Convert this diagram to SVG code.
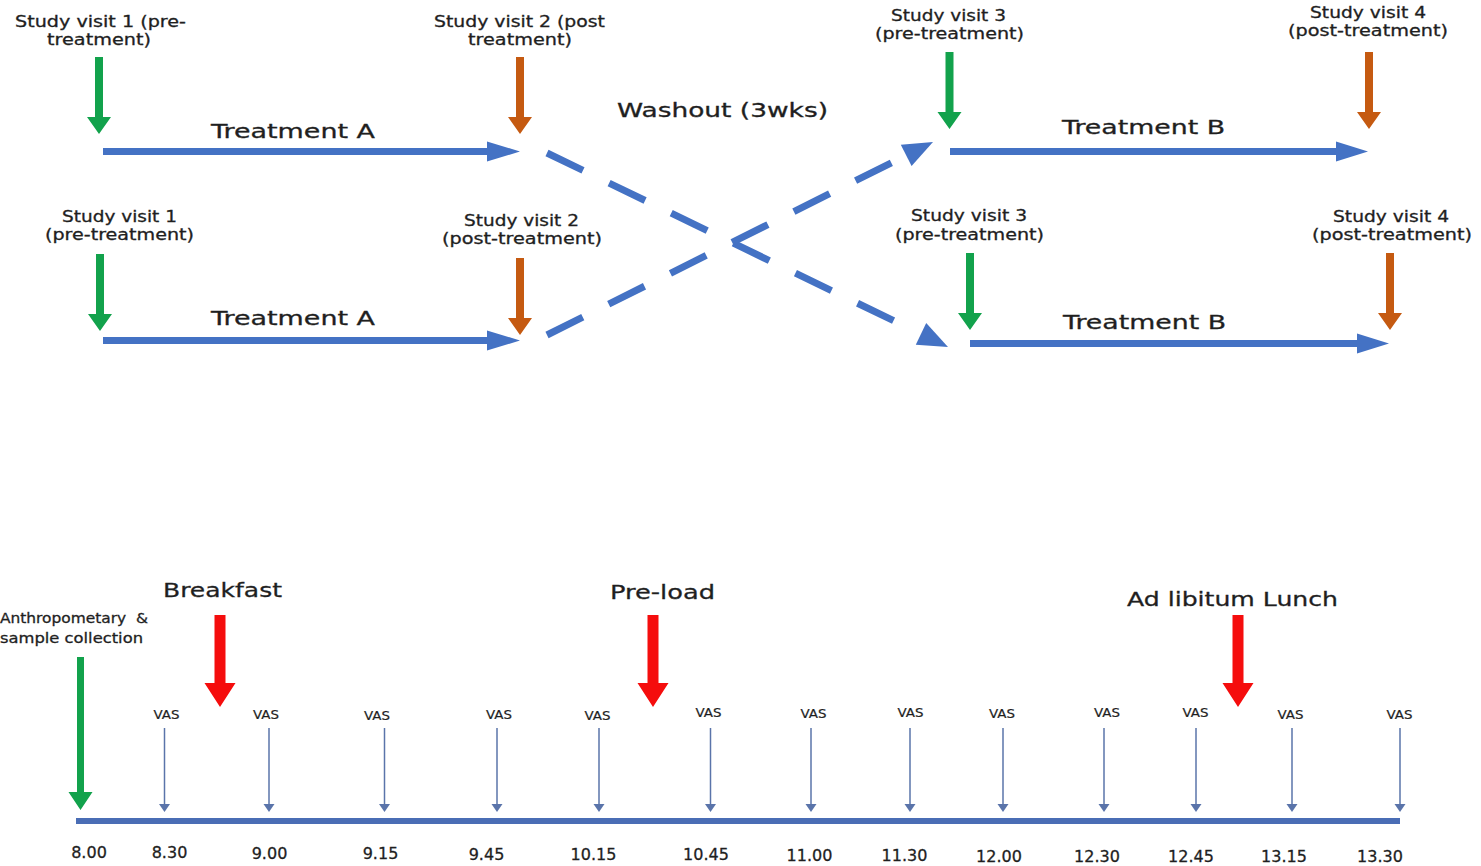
<svg xmlns="http://www.w3.org/2000/svg" xmlns:xlink="http://www.w3.org/1999/xlink" width="1481" height="866" viewBox="0 0 1481 866">
<style>
text{font-family:"DejaVu Sans","Liberation Sans",sans-serif;fill:#1f1f1f;stroke:#1f1f1f;stroke-width:0.3}
.lbl{font-size:15px}
.hd{font-size:19px}
.hd2{font-size:20px}
.vas{font-size:12px;stroke-width:0.2}
.tm{font-size:16px;text-anchor:middle}
.green{fill:#12a24c}
.orange{fill:#c55a11}
.blue{fill:#4472c4}
.red{fill:#f50d0d}
.dash{fill:none;stroke:#4472c4;stroke-width:7;stroke-dasharray:40 29}
.vasline{stroke:#5a74aa;stroke-width:1.5}
.vashead{fill:#5a74aa}
</style>
<defs>
<path id="visitArrow" d="M-4,0H4V60H12L0,77L-12,60H-4Z"/>
<path id="mealArrow" d="M-5.5,0H5.5V68H15.5L0,92L-15.5,68H-5.5Z"/>
<g id="vasArrow"><line class="vasline" x1="0" y1="0" x2="0" y2="77"/><path class="vashead" d="M-5.5,76H5.5L0,84Z"/></g>
</defs>
<rect width="1481" height="866" fill="#ffffff"/>

<!-- upper sequence -->
<g id="sv1-top">
<text class="lbl" x="15" y="27" textLength="171" lengthAdjust="spacingAndGlyphs">Study visit 1 (pre-</text>
<text class="lbl" x="47" y="45" textLength="104" lengthAdjust="spacingAndGlyphs">treatment)</text>
<use href="#visitArrow" class="green" transform="translate(99,57)"/>
</g>
<g id="sv2-top">
<text class="lbl" x="434" y="27" textLength="171" lengthAdjust="spacingAndGlyphs">Study visit 2 (post</text>
<text class="lbl" x="468" y="45" textLength="104" lengthAdjust="spacingAndGlyphs">treatment)</text>
<use href="#visitArrow" class="orange" transform="translate(520,57)"/>
</g>
<g id="sv3-top">
<text class="lbl" x="891" y="21" textLength="115" lengthAdjust="spacingAndGlyphs">Study visit 3</text>
<text class="lbl" x="875" y="39" textLength="149" lengthAdjust="spacingAndGlyphs">(pre-treatment)</text>
<use href="#visitArrow" class="green" transform="translate(949.5,52)"/>
</g>
<g id="sv4-top">
<text class="lbl" x="1310" y="18" textLength="116" lengthAdjust="spacingAndGlyphs">Study visit 4</text>
<text class="lbl" x="1288" y="36" textLength="160" lengthAdjust="spacingAndGlyphs">(post-treatment)</text>
<use href="#visitArrow" class="orange" transform="translate(1369,52)"/>
</g>

<!-- lower sequence -->
<g id="sv1-bottom">
<text class="lbl" x="62" y="222" textLength="115" lengthAdjust="spacingAndGlyphs">Study visit 1</text>
<text class="lbl" x="45" y="240" textLength="149" lengthAdjust="spacingAndGlyphs">(pre-treatment)</text>
<use href="#visitArrow" class="green" transform="translate(100,254)"/>
</g>
<g id="sv2-bottom">
<text class="lbl" x="464" y="226" textLength="115" lengthAdjust="spacingAndGlyphs">Study visit 2</text>
<text class="lbl" x="442" y="244" textLength="160" lengthAdjust="spacingAndGlyphs">(post-treatment)</text>
<use href="#visitArrow" class="orange" transform="translate(520,258)"/>
</g>
<g id="sv3-bottom">
<text class="lbl" x="911" y="221" textLength="116" lengthAdjust="spacingAndGlyphs">Study visit 3</text>
<text class="lbl" x="895" y="240" textLength="149" lengthAdjust="spacingAndGlyphs">(pre-treatment)</text>
<use href="#visitArrow" class="green" transform="translate(970,253)"/>
</g>
<g id="sv4-bottom">
<text class="lbl" x="1333" y="222" textLength="116" lengthAdjust="spacingAndGlyphs">Study visit 4</text>
<text class="lbl" x="1312" y="240" textLength="160" lengthAdjust="spacingAndGlyphs">(post-treatment)</text>
<use href="#visitArrow" class="orange" transform="translate(1390,253)"/>
</g>

<g id="washout-label">
<text class="hd" x="617" y="117" textLength="211" lengthAdjust="spacingAndGlyphs">Washout (3wks)</text>
</g>

<g id="connectors">
<g id="treatA-top">
<path class="blue" d="M103,148H487V141.5L520,151.5L487,161.5V155H103Z"/>
<text class="hd" x="211" y="138" textLength="164" lengthAdjust="spacingAndGlyphs">Treatment A</text>
</g>
<g id="treatA-bottom">
<path class="blue" d="M103,337H487V330.5L520,340.5L487,350.5V344H103Z"/>
<text class="hd" x="211" y="325" textLength="164" lengthAdjust="spacingAndGlyphs">Treatment A</text>
</g>
<g id="treatB-top">
<path class="blue" d="M950,148H1336V141.5L1368,151.5L1336,161.5V155H950Z"/>
<text class="hd" x="1062" y="134" textLength="163" lengthAdjust="spacingAndGlyphs">Treatment B</text>
</g>
<g id="treatB-bottom">
<path class="blue" d="M970,340H1357V333.5L1389,343.5L1357,353.5V347H970Z"/>
<text class="hd" x="1063" y="329" textLength="163" lengthAdjust="spacingAndGlyphs">Treatment B</text>
</g>
<g id="crossover-1">
<path class="dash" d="M547,153L907,327.2"/>
<path class="blue" d="M948,347L915.8,344.7L926.2,323.1Z"/>
</g>
<g id="crossover-2">
<path class="dash" d="M547,335L895.8,160.6"/>
<path class="blue" d="M933,142L911.6,166.1L900.8,144.7Z"/>
</g>
<rect id="timeline" class="blue" x="76" y="818" width="1324" height="6" style="fill:#4a6db5"/>
</g>

<!-- test day timeline -->
<g id="anthropometry">
<text xml:space="preserve" style="font-size:14px" x="0" y="623" textLength="148" lengthAdjust="spacingAndGlyphs">Anthropometary  &amp;</text>
<text style="font-size:14px" x="0" y="643" textLength="143" lengthAdjust="spacingAndGlyphs">sample collection</text>
<path class="green" d="M77,657H84V792H92.5L80.5,810L68.5,792H77Z"/>
</g>
<g id="breakfast">
<text class="hd2" x="163" y="597" textLength="119" lengthAdjust="spacingAndGlyphs">Breakfast</text>
<use href="#mealArrow" class="red" transform="translate(220,615)"/>
</g>
<g id="preload">
<text class="hd2" x="610" y="599" textLength="105" lengthAdjust="spacingAndGlyphs">Pre-load</text>
<use href="#mealArrow" class="red" transform="translate(653,615)"/>
</g>
<g id="lunch">
<text class="hd2" x="1127" y="606" textLength="211" lengthAdjust="spacingAndGlyphs">Ad libitum Lunch</text>
<use href="#mealArrow" class="red" transform="translate(1238,615)"/>
</g>

<g id="vas-points">
<g id="vas-830"><text class="vas" x="153.5" y="719" textLength="26" lengthAdjust="spacingAndGlyphs">VAS</text><use href="#vasArrow" transform="translate(164.5,728)"/></g>
<g id="vas-900"><text class="vas" x="253" y="719" textLength="26" lengthAdjust="spacingAndGlyphs">VAS</text><use href="#vasArrow" transform="translate(269,728)"/></g>
<g id="vas-915"><text class="vas" x="364" y="720" textLength="26" lengthAdjust="spacingAndGlyphs">VAS</text><use href="#vasArrow" transform="translate(384.5,728)"/></g>
<g id="vas-945"><text class="vas" x="486" y="719" textLength="26" lengthAdjust="spacingAndGlyphs">VAS</text><use href="#vasArrow" transform="translate(497,728)"/></g>
<g id="vas-1015"><text class="vas" x="584.5" y="720" textLength="26" lengthAdjust="spacingAndGlyphs">VAS</text><use href="#vasArrow" transform="translate(599,728)"/></g>
<g id="vas-1045"><text class="vas" x="695.5" y="717" textLength="26" lengthAdjust="spacingAndGlyphs">VAS</text><use href="#vasArrow" transform="translate(710.5,728)"/></g>
<g id="vas-1100"><text class="vas" x="800.5" y="718" textLength="26" lengthAdjust="spacingAndGlyphs">VAS</text><use href="#vasArrow" transform="translate(811,728)"/></g>
<g id="vas-1130"><text class="vas" x="897.5" y="717" textLength="26" lengthAdjust="spacingAndGlyphs">VAS</text><use href="#vasArrow" transform="translate(910,728)"/></g>
<g id="vas-1200"><text class="vas" x="989" y="718" textLength="26" lengthAdjust="spacingAndGlyphs">VAS</text><use href="#vasArrow" transform="translate(1003,728)"/></g>
<g id="vas-1230"><text class="vas" x="1094" y="717" textLength="26" lengthAdjust="spacingAndGlyphs">VAS</text><use href="#vasArrow" transform="translate(1104,728)"/></g>
<g id="vas-1245"><text class="vas" x="1182.5" y="717" textLength="26" lengthAdjust="spacingAndGlyphs">VAS</text><use href="#vasArrow" transform="translate(1196,728)"/></g>
<g id="vas-1315"><text class="vas" x="1277.5" y="719" textLength="26" lengthAdjust="spacingAndGlyphs">VAS</text><use href="#vasArrow" transform="translate(1292,728)"/></g>
<g id="vas-1330"><text class="vas" x="1386.5" y="719" textLength="26" lengthAdjust="spacingAndGlyphs">VAS</text><use href="#vasArrow" transform="translate(1400,728)"/></g>
</g>

<g id="time-labels">
<text class="tm" x="89" y="858">8.00</text>
<text class="tm" x="169.5" y="858">8.30</text>
<text class="tm" x="269.5" y="859">9.00</text>
<text class="tm" x="380.5" y="859">9.15</text>
<text class="tm" x="486.5" y="860">9.45</text>
<text class="tm" x="593.5" y="860">10.15</text>
<text class="tm" x="706" y="860">10.45</text>
<text class="tm" x="809.5" y="861">11.00</text>
<text class="tm" x="904.5" y="861">11.30</text>
<text class="tm" x="999" y="862">12.00</text>
<text class="tm" x="1097" y="862">12.30</text>
<text class="tm" x="1191" y="862">12.45</text>
<text class="tm" x="1284" y="862">13.15</text>
<text class="tm" x="1380" y="862">13.30</text>
</g>
</svg>
